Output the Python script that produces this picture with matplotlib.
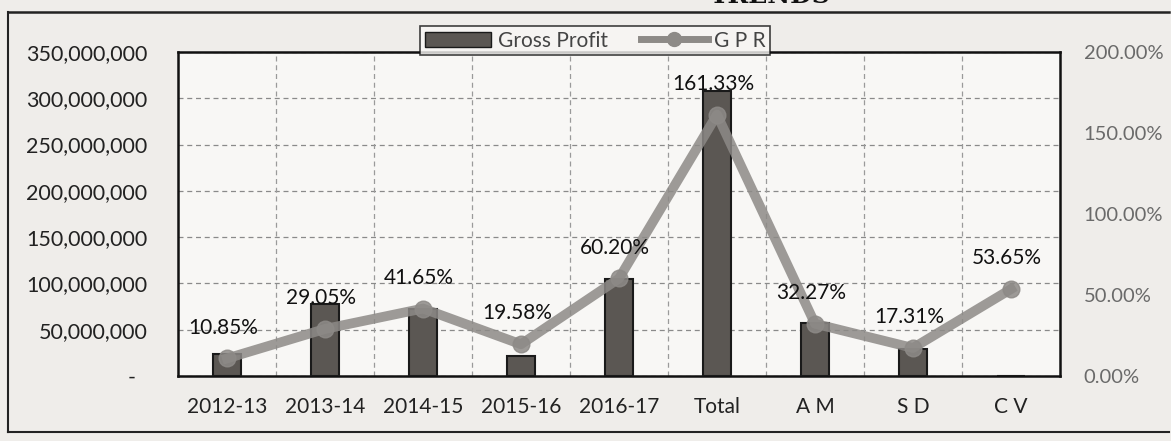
import matplotlib
matplotlib.use("Agg")
import matplotlib.pyplot as plt
from matplotlib.ticker import FuncFormatter, MultipleLocator
from matplotlib.lines import Line2D
from matplotlib.patches import Patch

categories = ["2012-13", "2013-14", "2014-15", "2015-16", "2016-17", "Total", "A M", "S D", "C V"]
gross_profit = [24e6, 78e6, 72e6, 22e6, 105e6, 308e6, 57e6, 29e6, 0]
gpr = [0.1085, 0.2905, 0.4165, 0.1958, 0.6020, 1.6133, 0.3227, 0.1731, 0.5365]
gpr_labels = ["10.85%", "29.05%", "41.65%", "19.58%", "60.20%", "161.33%", "32.27%", "17.31%", "53.65%"]

plt.rcParams['font.family'] = ['Lato', 'DejaVu Sans']

W, H = 1171, 441
fig = plt.figure(figsize=(W / 100, H / 100), dpi=100, facecolor='#efedea')
ax = fig.add_axes([178 / W, 1 - 376 / H, (1060 - 178) / W, (376 - 52) / H])
ax.set_facecolor('#f8f7f5')

x = list(range(len(categories)))
ax.bar(x, gross_profit, width=0.28, color='#5b5753', edgecolor='#1a1a1a', linewidth=1.5, zorder=3)
ax.set_ylim(0, 350e6)
ax.set_xlim(-0.5, len(categories) - 0.5)
ax.yaxis.set_major_locator(MultipleLocator(50e6))
ax.yaxis.set_major_formatter(FuncFormatter(lambda v, p: "-  " if v == 0 else f"{v:,.0f}"))
ax.set_xticks(x)
ax.set_xticklabels(categories)
ax.tick_params(axis='x', length=0, pad=15, labelsize=15, colors='#222222')
ax.tick_params(axis='y', length=0, pad=22, labelsize=15.5, colors='#222222')
for xv in [i + 0.5 for i in range(len(categories) - 1)]:
    ax.axvline(xv, color='#9a9a9a', linestyle=(0, (4, 3)), linewidth=0.9, zorder=1)
ax.grid(axis='y', color='#8a8a8a', linestyle=(0, (4, 3)), linewidth=0.9, zorder=1)
ax.set_axisbelow(True)
for s in ax.spines.values():
    s.set_color('#111111')
    s.set_linewidth(1.8)

ax2 = ax.twinx()
ax2.set_ylim(0, 2.0)
ax2.yaxis.set_major_locator(MultipleLocator(0.5))
ax2.yaxis.set_major_formatter(FuncFormatter(lambda v, p: f"{v * 100:.2f}%"))
ax2.tick_params(axis='y', length=0, pad=17, labelsize=14.5, colors='#6a6a6a')
for s in ax2.spines.values():
    s.set_visible(False)
ax2.plot(x, gpr, color='#8d8a87', linewidth=7, marker='o', markersize=12,
         markerfacecolor='#8d8a87', markeredgecolor='#8d8a87', alpha=0.85, zorder=4)
for xi, yi, lab in zip(x, gpr, gpr_labels):
    ax2.annotate(lab, (xi, yi), xytext=(-3, 15), textcoords='offset points',
                 ha='center', va='bottom', fontsize=15, color='#111111', zorder=5)

handles = [Patch(facecolor='#5b5753', edgecolor='#1a1a1a', label='Gross Profit'),
           Line2D([0], [0], color='#8d8a87', linewidth=5, marker='o', markersize=10, label='G P R')]
leg = fig.legend(handles=handles, loc='upper center', bbox_to_anchor=(595 / W, 1 - 16 / H),
                 ncol=2, frameon=True, fancybox=False, fontsize=15, handlelength=3.2,
                 columnspacing=1.6, borderpad=0.2, handletextpad=0.3)
leg.get_frame().set_edgecolor('#111111')
leg.get_frame().set_linewidth(1.2)
leg.get_frame().set_facecolor('#f8f7f5')
for t in leg.get_texts():
    t.set_color('#444444')

# outer border
fig.add_artist(Line2D([8 / W, 8 / W], [1 - 12 / H, 1 - 432 / H], color='#222222', lw=1.5, transform=fig.transFigure))
fig.add_artist(Line2D([8 / W, 1 - 2 / W], [1 - 12 / H, 1 - 12 / H], color='#222222', lw=1.8, transform=fig.transFigure))
fig.add_artist(Line2D([8 / W, 1 - 2 / W], [1 - 432 / H, 1 - 432 / H], color='#222222', lw=1.5, transform=fig.transFigure))

fig.text(830 / W, 1 + 4 / H, "TRENDS", ha='right', va='center', fontsize=18,
         fontweight='bold', family='DejaVu Serif', color='#111111')

fig.savefig("out.png", dpi=100, facecolor=fig.get_facecolor())
